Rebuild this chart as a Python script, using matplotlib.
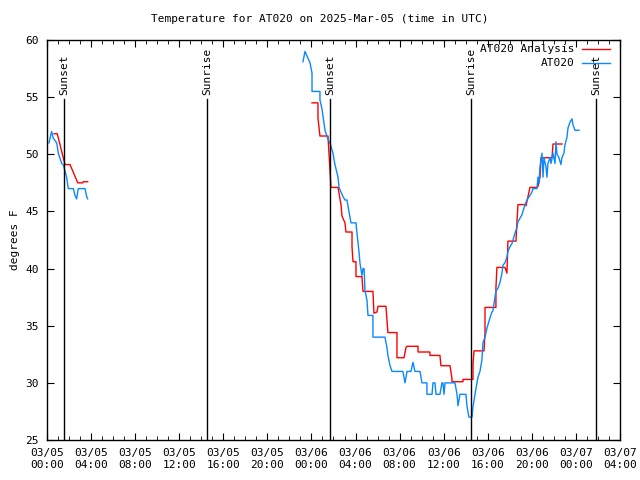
"""Temperature for AT020, analysis vs observed, with sunrise/sunset markers."""
from datetime import datetime, timedelta

import matplotlib
matplotlib.use("Agg")
import matplotlib.pyplot as plt
import matplotlib.dates as mdates

BASE = datetime(2025, 3, 5)
C_ANAL, C_OBS = "#ff0000", "#0a88ff"
FONT = "DejaVu Sans Mono"

# hours after 03/05 00:00 UTC and degrees F (None = gap)
anal_hours = [0.64, 0.93, 1.63, 2.09, 2.79, 3.24, 3.29, 3.69, None,
              24.05, 24.59, 24.59, 24.77, 25.50, 25.77, 26.41, 26.50, 26.68, 26.77,
              27.04, 27.13, 27.68, 27.68, 27.77, 28.04, 28.04, 28.58, 28.68, 29.58,
              29.67, 29.95, 30.04, 30.76, 30.85, 30.94, 31.76, 31.76, 32.40, 32.58,
              32.67, 33.67, 33.67, 34.75, 34.75, 35.66, 35.75, 36.57, 36.75, 36.75,
              37.75, 37.75, 38.66, 38.66, 38.75, 39.66, 39.75, 39.75, 40.74, 40.74,
              40.83, 41.56, 41.74, 41.83, 42.56, 42.65, 42.74, 43.29, 43.47, 43.65,
              43.83, 44.46, 44.56, 44.74, 44.83, 45.19, 45.46, 45.83, 45.92, 46.73]
anal_temps = [51.8, 51.8, 49.1, 49.1, 47.5, 47.5, 47.6, 47.6, None,
              54.5, 54.5, 53.2, 51.6, 51.6, 47.1, 47.1, 46.6, 45.6, 44.6,
              44.0, 43.2, 43.2, 41.9, 40.6, 40.6, 39.3, 39.3, 38.0, 38.0,
              36.1, 36.2, 36.7, 36.7, 35.5, 34.4, 34.4, 32.2, 32.2, 33.1,
              33.2, 33.2, 32.7, 32.7, 32.4, 32.4, 31.5, 31.5, 30.4, 30.1,
              30.1, 30.3, 30.3, 31.7, 32.8, 32.8, 34.4, 36.6, 36.6, 38.3,
              40.1, 40.1, 39.6, 42.4, 42.4, 44.1, 45.6, 45.6, 45.5, 46.3,
              47.1, 47.1, 47.2, 48.0, 49.7, 49.7, 49.7, 49.7, 50.9, 50.9]

obs_hours = [0.18, 0.42, 0.57, 0.88, 1.03, 1.33, 1.48, 1.78, 1.93, 2.39,
             2.54, 2.69, 2.84, 3.45, 3.60, 3.69, None,
             23.23, 23.41, 23.87, 24.05, 24.05, 24.77, 24.77, 24.95, 25.05, 25.23,
             25.50, 25.68, 25.95, 26.13, 26.41, 26.50, 26.86, 27.04, 27.22, 27.40,
             27.59, 28.04, 28.13, 28.31, 28.40, 28.58, 28.68, 28.77, 28.86, 29.04,
             29.13, 29.58, 29.58, 30.67, 30.85, 30.94, 31.13, 31.31, 32.30, 32.49,
             32.67, 33.03, 33.21, 33.39, 33.85, 34.03, 34.48, 34.48, 34.94, 35.03,
             35.21, 35.30, 35.66, 35.84, 35.93, 36.03, 36.12, 37.02, 37.21, 37.30,
             37.48, 38.02, 38.11, 38.29, 38.57, 38.66, 38.84, 39.11, 39.29, 39.47,
             39.56, 39.75, 39.93, 40.20, 40.38, 40.47, 40.65, 40.74, 40.93, 41.11,
             41.29, 41.38, 41.56, 41.74, 41.83, 42.01, 42.20, 42.29, 42.47, 42.65,
             42.74, 42.92, 43.10, 43.19, 43.38, 43.56, 43.83, 44.01, 44.10, 44.46,
             44.56, 44.65, 44.74, 44.92, 45.01, 45.10, 45.28, 45.37, 45.46, 45.64,
             45.74, 45.92, 46.10, 46.19, 46.28, 46.46, 46.64, 46.73, 46.91, 47.00,
             47.19, 47.28, 47.46, 47.64, 47.73, 47.91, 48.28]
obs_temps = [51.0, 52.0, 51.4, 51.0, 50.1, 49.2, 49.1, 48.0, 47.0, 47.0,
             46.4, 46.1, 47.0, 47.0, 46.3, 46.1, None,
             58.1, 59.0, 58.0, 57.1, 55.5, 55.5, 54.75, 54.0, 53.3, 52.1,
             51.3, 51.0, 50.1, 49.1, 48.0, 47.1, 46.3, 46.0, 46.0, 45.0,
             44.0, 44.0, 43.1, 41.5, 40.5, 39.4, 40.0, 40.0, 38.1, 37.2,
             35.9, 35.9, 34.0, 34.0, 33.1, 32.4, 31.5, 31.0, 31.0, 30.0,
             31.0, 31.0, 31.8, 31.0, 31.0, 30.0, 30.0, 29.0, 29.0, 30.0,
             30.0, 29.0, 29.0, 30.0, 30.0, 29.0, 30.0, 30.0, 29.0, 28.0,
             29.0, 29.0, 28.0, 27.0, 27.0, 27.9, 29.0, 30.5, 31.0, 32.0,
             33.5, 34.0, 34.8, 35.7, 36.2, 36.3, 37.5, 38.0, 38.3, 38.8,
             39.6, 40.3, 40.5, 41.0, 41.5, 41.9, 42.2, 42.5, 43.1, 43.6,
             44.1, 44.4, 44.7, 45.0, 45.6, 46.0, 46.4, 46.7, 47.0, 47.0,
             48.0, 47.5, 48.9, 50.1, 48.0, 49.7, 48.9, 48.0, 49.2, 49.7,
             49.2, 50.1, 49.2, 51.1, 50.0, 49.7, 49.1, 49.7, 50.1, 50.8,
             51.5, 52.3, 52.8, 53.1, 52.6, 52.1, 52.1]

sun_hours = [1.57, 14.52, 25.71, 38.50, 49.85]
sun_labels = ["Sunset", "Sunrise", "Sunset", "Sunrise", "Sunset"]


def segments(hours, temps):
    """Split at None gaps so the gaps are not joined."""
    seg_t, seg_v = [], []
    for h, v in zip(hours, temps):
        if h is None:
            yield seg_t, seg_v
            seg_t, seg_v = [], []
        else:
            seg_t.append(BASE + timedelta(hours=h))
            seg_v.append(v)
    yield seg_t, seg_v


fig = plt.figure(figsize=(6.4, 4.8), dpi=100)
ax = fig.add_axes([47 / 640, 40 / 480, 573 / 640, 400 / 480])

for t, v in segments(anal_hours, anal_temps):
    ax.plot(t, v, color=C_ANAL, lw=1.0)
for t, v in segments(obs_hours, obs_temps):
    ax.plot(t, v, color=C_OBS, lw=1.0)

for h, lab in zip(sun_hours, sun_labels):
    d = BASE + timedelta(hours=h)
    ax.plot([d, d], [25, 54.85], color="black", lw=1.0)
    ax.text(d, 55.2, lab, rotation=90, ha="center", va="bottom",
            fontsize=8, family=FONT)

ax.set_xlim(BASE, BASE + timedelta(hours=52))
ax.set_ylim(25, 60)
ax.xaxis.set_major_locator(mdates.HourLocator(byhour=range(0, 24, 4)))
ax.xaxis.set_minor_locator(mdates.HourLocator())
ax.xaxis.set_major_formatter(mdates.DateFormatter("%m/%d\n%H:%M"))
ax.set_yticks(range(25, 61, 5))
ax.tick_params(which="both", direction="in", top=True, right=True,
               labelsize=8, pad=6)
ax.tick_params(which="major", length=5)
ax.tick_params(which="minor", length=3)
for lbl in ax.get_xticklabels() + ax.get_yticklabels():
    lbl.set_family(FONT)
for s in ax.spines.values():
    s.set_linewidth(1.0)

ax.set_ylabel("degrees F", fontsize=8, family=FONT, labelpad=4)
fig.text(0.5, 1 - 19 / 480, "Temperature for AT020 on 2025-Mar-05 (time in UTC)",
         ha="center", va="center", fontsize=8, family=FONT)

# gnuplot-style key, top right
for y, lab, c in [(0.9775, "AT020 Analysis", C_ANAL), (0.9425, "AT020", C_OBS)]:
    ax.text(0.921, y, lab, transform=ax.transAxes, ha="right", va="center",
            fontsize=8, family=FONT)
    ax.plot([0.934, 0.983], [y, y], transform=ax.transAxes, color=c, lw=1.0)

fig.savefig("out.png", dpi=100)
